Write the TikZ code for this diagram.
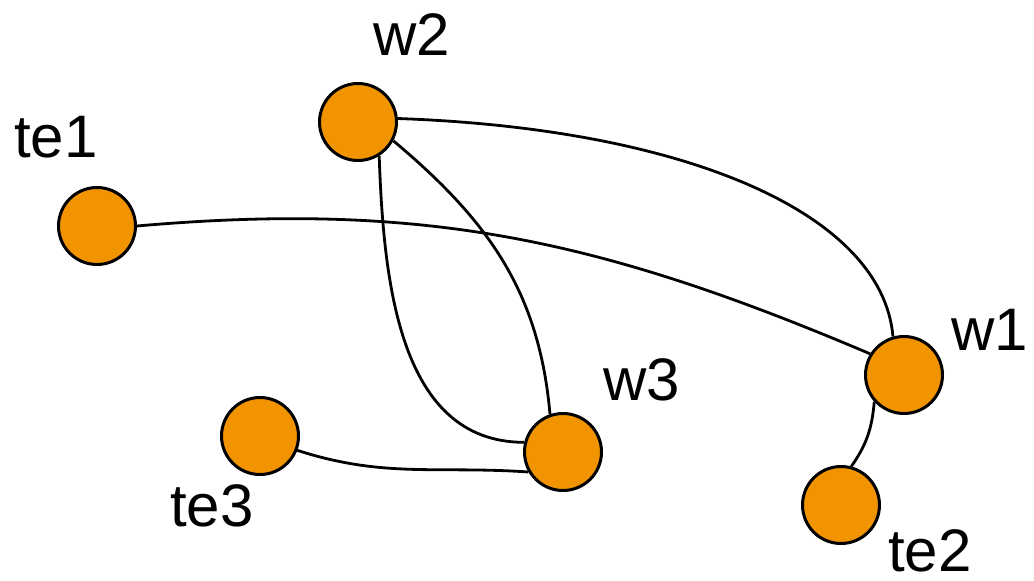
\documentclass[tikz,border=0pt]{standalone}
\usepackage{fontspec}
\setmainfont{Liberation Sans}
\definecolor{nodeorange}{RGB}{242,148,0}
\begin{document}
\begin{tikzpicture}[
    x=1pt,y=1pt,
    vert/.style={circle,draw=black,fill=nodeorange,line width=3pt,minimum size=77pt,inner sep=0pt},
    lbl/.style={font=\fontsize{60}{66}\selectfont,inner sep=0pt},
    link/.style={line width=2.8pt}
    ]
    \useasboundingbox (0,0) rectangle (1034,-581);
    \node[vert] (w2) at (358,-122) {};
    \node[vert] (te1) at (97,-226) {};
    \node[vert] (w1) at (904,-375) {};
    \node[vert] (w3) at (563,-452) {};
    \node[vert] (te3) at (260,-436) {};
    \node[vert] (te2) at (841,-505) {};
    \node[lbl] (w2l) at (412,-35) {w2};
    \node[lbl] (te1l) at (56,-137) {te1};
    \node[lbl] (w1l) at (990,-330) {w1};
    \node[lbl] (w3l) at (642,-380) {w3};
    \node[lbl] (te3l) at (212,-506) {te3};
    \node[lbl] (te2l) at (930,-551) {te2};
    \draw[link] (w2.5) to[out=-2,in=95,out distance=285pt,in distance=125pt] (w1.106);
    \draw[link] (te1.0) to[out=5,in=157] (w1.148);
    \draw[link] (w2.-58) to[out=-88,in=180] (w3.166);
    \draw[link] (w2.-28) to[out=-40,in=95] (w3.109);
    \draw[link] (te3.-21) to[out=-18,in=176] (w3.-150);
    \draw[link] (w1.-138) to[out=-95,in=55] (te2.75);
  \end{tikzpicture}
\end{document}
